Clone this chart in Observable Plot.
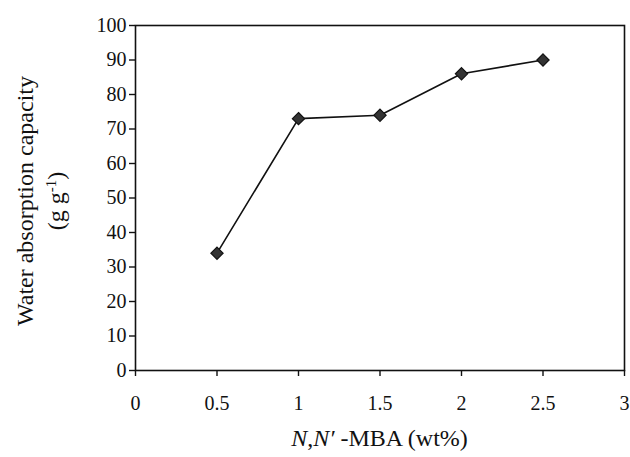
<!DOCTYPE html>
<html>
<head>
<meta charset="utf-8">
<script src="https://cdn.jsdelivr.net/npm/d3@7"></script>
<script src="https://cdn.jsdelivr.net/npm/@observablehq/plot@0.6"></script>
<style>
  html, body { margin: 0; padding: 0; background: #fff; }
  svg { display: block; }
</style>
</head>
<body>
<div id="chart"></div>
<script>
const mbaWt = [0.5, 1, 1.5, 2, 2.5];
const waterAbsorption = [34, 73, 74, 86, 90];
const xTicks = [0, 0.5, 1, 1.5, 2, 2.5, 3];
const yTicks = [0, 10, 20, 30, 40, 50, 60, 70, 80, 90, 100];

const data = mbaWt.map((x, i) => ({x, y: waterAbsorption[i]}));

const marginLeft = 135, marginRight = 6, marginTop = 25, marginBottom = 87;
const W = 630, H = 457;
const font = "'Liberation Serif', 'Times New Roman', serif";

const chart = Plot.plot({
  width: W,
  height: H,
  marginLeft, marginRight, marginTop, marginBottom,
  style: {fontFamily: font, color: "#111", background: "#fff"},
  x: {domain: [0, 3], label: null},
  y: {domain: [0, 100], label: null},
  marks: [
    Plot.frame({stroke: "#111", strokeWidth: 1.6}),
    Plot.axisX({ticks: xTicks, tickFormat: d => String(d), tickSize: 6, tickPadding: 19, fontSize: 20, label: null, stroke: "#111", strokeWidth: 1.4}),
    Plot.axisY({ticks: yTicks, tickFormat: d => String(d), tickSize: 6, tickPadding: 3, fontSize: 20, label: null, stroke: "#111", strokeWidth: 1.4}),
    Plot.line(data, {x: "x", y: "y", stroke: "#111", strokeWidth: 1.6}),
    Plot.dot(data, {x: "x", y: "y", symbol: "diamond2", r: 5.5, fill: "#333", stroke: "#111", strokeWidth: 1.2})
  ]
});

const svg = d3.select(chart);

// Y-axis title (two lines, rotated)
const yl = svg.append("g").attr("transform", `translate(33,201) rotate(-90)`)
  .attr("font-family", font).attr("font-size", 24).attr("fill", "#111").attr("text-anchor", "middle");
yl.append("text").attr("x", 0).attr("y", 0).text("Water absorption capacity");
const t2 = yl.append("text").attr("x", 0).attr("y", 31);
t2.append("tspan").text("(g g");
t2.append("tspan").attr("baseline-shift", "super").attr("font-size", 15).text("-1");
t2.append("tspan").text(")");

// X-axis title
const cx = (marginLeft + (W - marginRight)) / 2;
const xl = svg.append("text").attr("x", cx).attr("y", 446)
  .attr("font-family", font).attr("font-size", 24).attr("fill", "#111").attr("text-anchor", "middle");
xl.append("tspan").attr("font-style", "italic").text("N");
xl.append("tspan").text(",");
xl.append("tspan").attr("font-style", "italic").text("N\u2032");
xl.append("tspan").text(" -MBA (wt%)");

document.getElementById("chart").appendChild(chart);
</script>
</body>
</html>
